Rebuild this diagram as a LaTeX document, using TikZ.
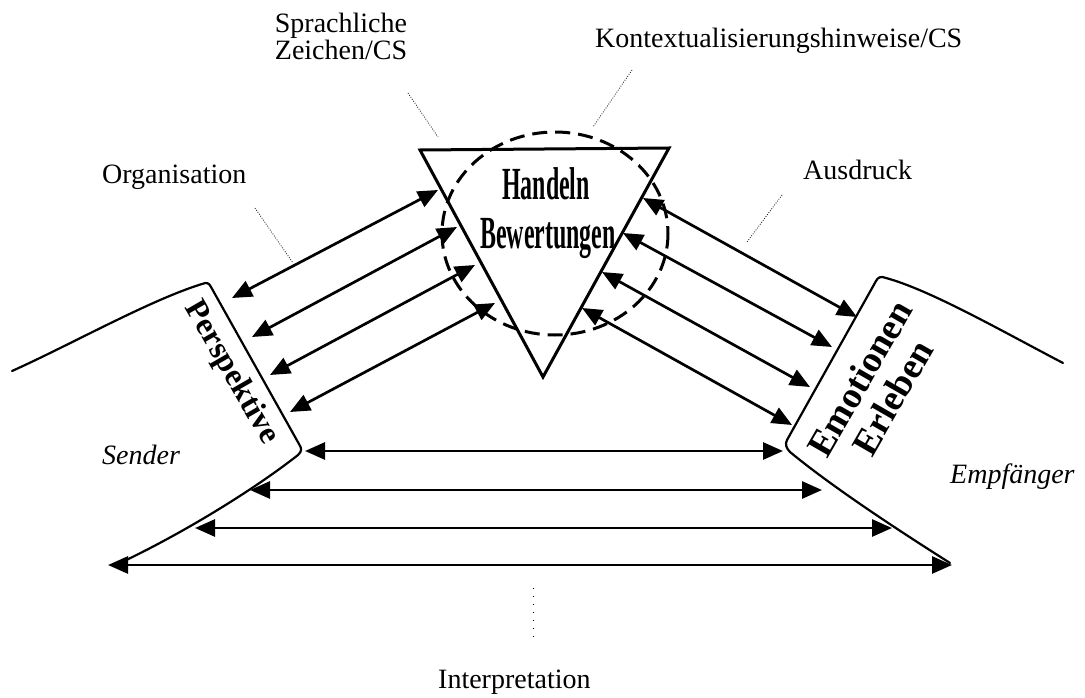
\documentclass[tikz,border=0pt]{standalone}
\usepackage{fontspec}
\setmainfont{Liberation Serif}
\usetikzlibrary{arrows.meta}
\begin{document}
\begin{tikzpicture}[x=1pt,y=-1pt,
  lbl/.style={inner sep=0pt, font=\fontsize{28}{25}\selectfont},
  ilbl/.style={inner sep=0pt, font=\fontsize{28}{25}\selectfont\itshape},
  bigbold/.style={inner sep=0pt, font=\fontsize{#1}{#1}\selectfont\bfseries},
  dbl/.style={line width=2.7pt, {Triangle[length=20pt,width=17pt]}-{Triangle[length=20pt,width=17pt]}},
  leader/.style={line width=0.8pt, dash pattern=on 0.8pt off 1.6pt},
  outline/.style={line width=2.2pt, line join=round, line cap=round}
]
\useasboundingbox (0,0) rectangle (1085,698);

% sender / receiver shapes
\draw[outline] (12,371) .. controls (70,345) and (150,300) .. (202,284)
  .. controls (207,282) and (209,283) .. (211,287) -- (299,444)
  .. controls (302,449) and (302,451) .. (298,455)
  .. controls (260,485) and (190,530) .. (118,564);
\draw[outline] (1063,363) .. controls (1000,330) and (930,290) .. (886,278)
  .. controls (881,276) and (878,277) .. (876,281) -- (787,440)
  .. controls (785,444) and (786,448) .. (790,452)
  .. controls (830,485) and (890,525) .. (950,563);

% central triangle and dashed circle
\draw[line width=3pt, line join=miter] (420,150) -- (669,148) -- (543,377) -- cycle;
\draw[line width=3pt, dash pattern=on 15pt off 8pt] (555,233.5) ellipse [x radius=113, y radius=101.5];

% arrow end points
\coordinate (a1s) at (438,190); \coordinate (a1e) at (232,298);
\coordinate (a2s) at (457,227); \coordinate (a2e) at (252,337);
\coordinate (a3s) at (475,265); \coordinate (a3e) at (270,375);
\coordinate (a4s) at (495,303); \coordinate (a4e) at (290,412);
\coordinate (b1s) at (643,198); \coordinate (b1e) at (857,317);
\coordinate (b2s) at (623,233); \coordinate (b2e) at (832,347);
\coordinate (b3s) at (602,272); \coordinate (b3e) at (810,387);
\coordinate (b4s) at (582,308); \coordinate (b4e) at (792,425);
\coordinate (h1s) at (305,451); \coordinate (h1e) at (783,451);
\coordinate (h2s) at (250,490); \coordinate (h2e) at (822,490);
\coordinate (h3s) at (195,528); \coordinate (h3e) at (892,528);
\coordinate (h4s) at (108,565); \coordinate (h4e) at (952,565);

\foreach \n in {a1,a2,a3,a4,b1,b2,b3,b4,h1,h2,h3,h4}
  \draw[dbl] (\n s) -- (\n e);

% texts
\node[bigbold=46, anchor=base] (han) at (546,200) {\scalebox{0.52}[1]{Handeln}};
\node[bigbold=46, anchor=base] (bew) at (548,248) {\scalebox{0.52}[1]{Bewertungen}};
\node[bigbold=32, rotate=-60] (per) at (231,373) {Perspektive};
\node[bigbold=37, rotate=60, align=center, font=\fontsize{37}{38}\selectfont\bfseries] (emo) at (876,388) {Emotionen\\Erleben};

\node[lbl, anchor=base west] (org) at (102,183) {Organisation};
\node[lbl, anchor=north, align=center] (spr) at (341,13) {Sprachliche\\Zeichen/CS};
\node[lbl, anchor=base west] (kon) at (595,48) {Kontextualisierungshinweise/CS};
\node[lbl, anchor=base west] (aus) at (803,179) {Ausdruck};
\node[lbl, anchor=base west] (int) at (438,688) {Interpretation};
\node[ilbl, anchor=base west] (sen) at (102,464) {Sender};
\node[ilbl, anchor=base west] (emp) at (950,483) {Empfänger};

% dotted leaders
\coordinate (lo1) at (255,208); \coordinate (lo2) at (293,263);
\coordinate (ls1) at (408,93);  \coordinate (ls2) at (438,137);
\coordinate (lk1) at (632,70);  \coordinate (lk2) at (593,127);
\coordinate (la1) at (782,195); \coordinate (la2) at (747,242);
\coordinate (li1) at (533,588); \coordinate (li2) at (533,638);
\draw[leader] (lo1) -- (lo2);
\draw[leader] (ls1) -- (ls2);
\draw[leader] (lk1) -- (lk2);
\draw[leader] (la1) -- (la2);
\draw[line width=0.9pt, dash pattern=on 1pt off 7pt] (li1) -- (li2);
\end{tikzpicture}
\end{document}
